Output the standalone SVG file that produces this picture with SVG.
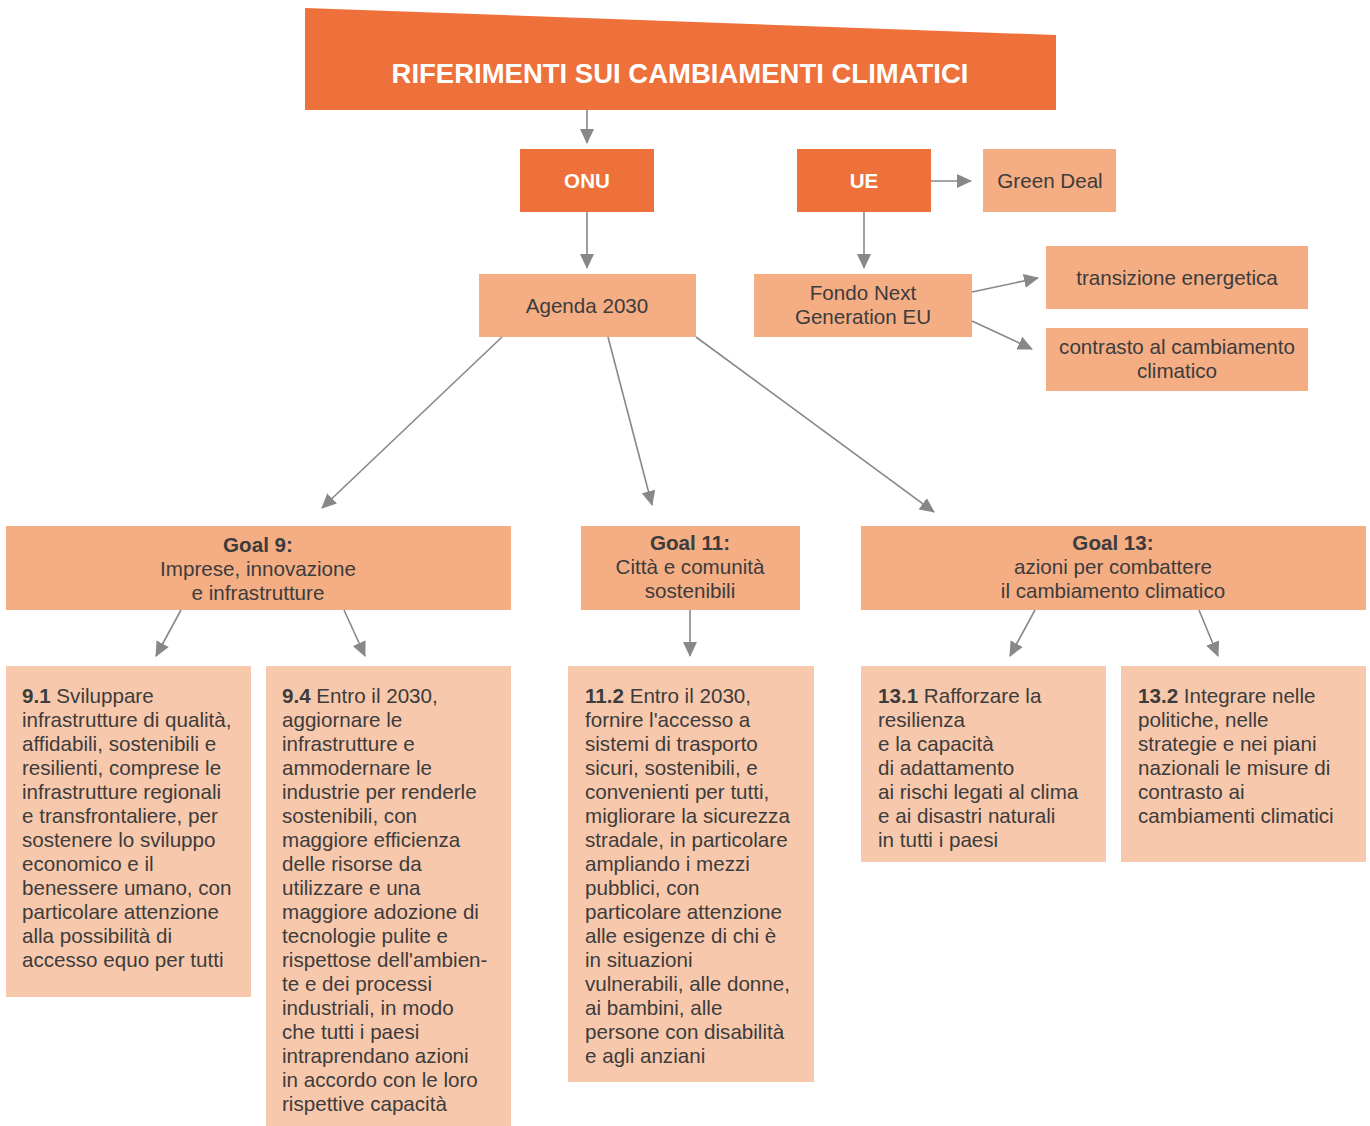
<svg xmlns="http://www.w3.org/2000/svg" width="1370" height="1126" viewBox="0 0 1370 1126">
<style>
text{font-family:"Liberation Sans",Arial,sans-serif;fill:#3c3c3c;font-size:20.6px}
.dark{fill:#EE703A}
.mid{fill:#F5AD84}
.light{fill:#F8C8AC}
.w{fill:#fff;font-weight:bold}
.c{text-anchor:middle}
.b{font-weight:bold}
.conn line{stroke:#888;stroke-width:1.6;marker-end:url(#ah)}
</style>
<defs>
<marker id="ah" markerUnits="userSpaceOnUse" markerWidth="16" markerHeight="14" refX="14" refY="7" orient="auto">
<path d="M0,0 L15,7 L0,14 Z" fill="#888"/>
</marker>
</defs>
<g id="title">
<polygon class="dark" points="305,8 1056,35 1056,110 305,110"/>
<text class="w c" x="680" y="83" style="font-size:27.5px">RIFERIMENTI SUI CAMBIAMENTI CLIMATICI</text>
</g>
<g id="onu"><rect class="dark" x="520" y="149" width="134" height="63"/><text class="w c" x="587" y="188">ONU</text></g>
<g id="ue"><rect class="dark" x="797" y="149" width="134" height="63"/><text class="w c" x="864" y="188">UE</text></g>
<g id="greendeal"><rect class="mid" x="983" y="149" width="133" height="63"/><text class="c" x="1050" y="188">Green Deal</text></g>
<g id="agenda"><rect class="mid" x="479" y="274" width="217" height="63"/><text class="c" x="587" y="313">Agenda 2030</text></g>
<g id="fondo"><rect class="mid" x="754" y="274" width="218" height="63"/><text class="c" x="863" y="300">Fondo Next</text><text class="c" x="863" y="324">Generation EU</text></g>
<g id="transizione"><rect class="mid" x="1046" y="246" width="262" height="63"/><text class="c" x="1177" y="285">transizione energetica</text></g>
<g id="contrasto"><rect class="mid" x="1046" y="328" width="262" height="63"/><text class="c" x="1177" y="354">contrasto al cambiamento</text><text class="c" x="1177" y="378">climatico</text></g>
<g id="goal9"><rect class="mid" x="6" y="526" width="505" height="84"/>
<text class="c" x="258" y="552"><tspan class="b">Goal 9:</tspan></text>
<text class="c" x="258" y="576">Imprese, innovazione</text>
<text class="c" x="258" y="600">e infrastrutture</text></g>
<g id="goal11"><rect class="mid" x="581" y="526" width="219" height="84"/>
<text class="c" x="690" y="550"><tspan class="b">Goal 11:</tspan></text>
<text class="c" x="690" y="574">Città e comunità</text>
<text class="c" x="690" y="598">sostenibili</text></g>
<g id="goal13"><rect class="mid" x="861" y="526" width="505" height="84"/>
<text class="c" x="1113" y="550"><tspan class="b">Goal 13:</tspan></text>
<text class="c" x="1113" y="574">azioni per combattere</text>
<text class="c" x="1113" y="598">il cambiamento climatico</text></g>
<g id="t91"><rect class="light" x="6" y="666" width="245" height="331"/>
<text x="22" y="703"><tspan class="b">9.1</tspan> Sviluppare</text>
<text x="22" y="727">infrastrutture di qualità,</text>
<text x="22" y="751">affidabili, sostenibili e</text>
<text x="22" y="775">resilienti, comprese le</text>
<text x="22" y="799">infrastrutture regionali</text>
<text x="22" y="823">e transfrontaliere, per</text>
<text x="22" y="847">sostenere lo sviluppo</text>
<text x="22" y="871">economico e il</text>
<text x="22" y="895">benessere umano, con</text>
<text x="22" y="919">particolare attenzione</text>
<text x="22" y="943">alla possibilità di</text>
<text x="22" y="967">accesso equo per tutti</text></g>
<g id="t94"><rect class="light" x="266" y="666" width="245" height="460"/>
<text x="282" y="703"><tspan class="b">9.4</tspan> Entro il 2030,</text>
<text x="282" y="727">aggiornare le</text>
<text x="282" y="751">infrastrutture e</text>
<text x="282" y="775">ammodernare le</text>
<text x="282" y="799">industrie per renderle</text>
<text x="282" y="823">sostenibili, con</text>
<text x="282" y="847">maggiore efficienza</text>
<text x="282" y="871">delle risorse da</text>
<text x="282" y="895">utilizzare e una</text>
<text x="282" y="919">maggiore adozione di</text>
<text x="282" y="943">tecnologie pulite e</text>
<text x="282" y="967">rispettose dell'ambien-</text>
<text x="282" y="991">te e dei processi</text>
<text x="282" y="1015">industriali, in modo</text>
<text x="282" y="1039">che tutti i paesi</text>
<text x="282" y="1063">intraprendano azioni</text>
<text x="282" y="1087">in accordo con le loro</text>
<text x="282" y="1111">rispettive capacità</text></g>
<g id="t112"><rect class="light" x="568" y="666" width="246" height="416"/>
<text x="585" y="703"><tspan class="b">11.2</tspan> Entro il 2030,</text>
<text x="585" y="727">fornire l'accesso a</text>
<text x="585" y="751">sistemi di trasporto</text>
<text x="585" y="775">sicuri, sostenibili, e</text>
<text x="585" y="799">convenienti per tutti,</text>
<text x="585" y="823">migliorare la sicurezza</text>
<text x="585" y="847">stradale, in particolare</text>
<text x="585" y="871">ampliando i mezzi</text>
<text x="585" y="895">pubblici, con</text>
<text x="585" y="919">particolare attenzione</text>
<text x="585" y="943">alle esigenze di chi è</text>
<text x="585" y="967">in situazioni</text>
<text x="585" y="991">vulnerabili, alle donne,</text>
<text x="585" y="1015">ai bambini, alle</text>
<text x="585" y="1039">persone con disabilità</text>
<text x="585" y="1063">e agli anziani</text></g>
<g id="t131"><rect class="light" x="861" y="666" width="245" height="196"/>
<text x="878" y="703"><tspan class="b">13.1</tspan> Rafforzare la</text>
<text x="878" y="727">resilienza</text>
<text x="878" y="751">e la capacità</text>
<text x="878" y="775">di adattamento</text>
<text x="878" y="799">ai rischi legati al clima</text>
<text x="878" y="823">e ai disastri naturali</text>
<text x="878" y="847">in tutti i paesi</text></g>
<g id="t132"><rect class="light" x="1121" y="666" width="245" height="196"/>
<text x="1138" y="703"><tspan class="b">13.2</tspan> Integrare nelle</text>
<text x="1138" y="727">politiche, nelle</text>
<text x="1138" y="751">strategie e nei piani</text>
<text x="1138" y="775">nazionali le  misure di</text>
<text x="1138" y="799">contrasto ai</text>
<text x="1138" y="823">cambiamenti climatici</text></g>
<g id="connectors" class="conn">
<line x1="587" y1="110" x2="587" y2="143"/>
<line x1="587" y1="212" x2="587" y2="268"/>
<line x1="931" y1="181" x2="971" y2="181"/>
<line x1="864" y1="212" x2="864" y2="268"/>
<line x1="972" y1="292" x2="1038" y2="278"/>
<line x1="972" y1="321" x2="1032" y2="349"/>
<line x1="502" y1="337" x2="322" y2="508"/>
<line x1="608" y1="337" x2="652" y2="505"/>
<line x1="696" y1="337" x2="934" y2="512"/>
<line x1="181" y1="610" x2="156" y2="656"/>
<line x1="344" y1="610" x2="365" y2="656"/>
<line x1="690" y1="610" x2="690" y2="656"/>
<line x1="1035" y1="610" x2="1010" y2="656"/>
<line x1="1199" y1="610" x2="1218" y2="656"/>
</g>
</svg>
